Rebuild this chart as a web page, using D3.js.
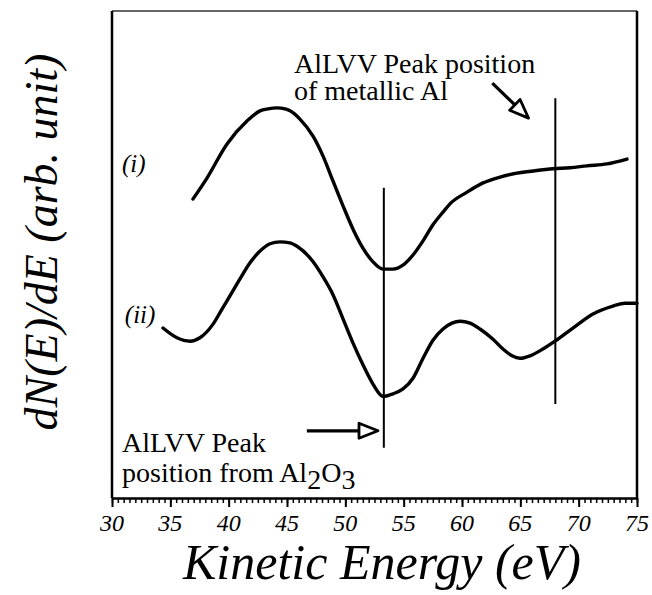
<!DOCTYPE html>
<html><head><meta charset="utf-8">
<script src="https://cdn.jsdelivr.net/npm/d3@7"></script>
</head><body style="margin:0">
<svg id="c" width="652" height="595"></svg>
<script>
// Kinetic energy (eV) and dN(E)/dE (arb. unit) for each spectrum
const energyI = [36.94,38.14,39.86,41.57,42.69,43.37,44.14,44.83,45.26,46.11,47.23,48.09,48.94,49.80,50.66,51.51,52.37,53.23,54.09,54.94,55.80,56.66,57.51,58.37,58.97,60.43,61.80,63.26,64.71,66.26,67.80,69.26,70.71,72.43,74.14];
const valueI  = [6.14,6.57,7.27,7.74,7.95,7.99,8.01,7.99,7.95,7.78,7.43,7.02,6.51,6.00,5.52,5.13,4.85,4.70,4.70,4.78,4.99,5.28,5.61,5.87,6.04,6.28,6.47,6.59,6.67,6.72,6.76,6.78,6.82,6.86,6.96];
const energyII = [34.37,35.57,36.69,37.54,38.66,39.43,40.11,40.97,41.83,42.69,43.54,44.40,45.26,45.86,47.24,48.09,48.95,49.80,50.66,51.52,52.37,53.23,54.09,54.94,55.80,56.66,57.51,58.37,59.14,59.83,60.69,61.54,62.66,63.51,64.29,64.97,65.83,66.94,67.97,69.51,71.23,72.94,73.97,75.0];
const valueII  = [3.49,3.29,3.22,3.29,3.57,3.88,4.15,4.50,4.83,5.07,5.22,5.26,5.24,5.17,4.85,4.54,4.17,3.68,3.18,2.73,2.34,2.09,2.14,2.24,2.46,2.87,3.24,3.47,3.59,3.63,3.59,3.47,3.26,3.06,2.92,2.87,2.92,3.06,3.22,3.49,3.78,3.94,4.00,4.00];
const xTicks = [30,35,40,45,50,55,60,65,70,75];
const peakEnergies = [53.3, 68];          // AlLVV peak markers (Al2O3, metallic Al)
const peakLineTop = [6.37, 8.21];
const peakLineBottom = [1.03, 1.93];

const svg = d3.select("#c");
const L = 112, R = 637, T = 11, B = 498;
const x = d3.scaleLinear().domain([30,75]).range([L,R]);
const y = d3.scaleLinear().domain([0,10]).range([B,T]);
const FF = "Liberation Serif";

// frame
svg.append("line").attr("x1",L).attr("x2",R).attr("y1",T).attr("y2",T).attr("stroke","#333").attr("stroke-width",1.5);
svg.append("line").attr("x1",L).attr("x2",L).attr("y1",T).attr("y2",B).attr("stroke","#000").attr("stroke-width",2.5);
svg.append("line").attr("x1",R).attr("x2",R).attr("y1",T).attr("y2",B).attr("stroke","#000").attr("stroke-width",2.5);

// bottom axis: minor ticks every 0.5 eV, longer ticks every 5 eV (labels drawn below)
const minor = d3.range(30,75.01,0.5);
svg.append("g").attr("transform",`translate(0,${B})`)
  .call(d3.axisBottom(x).tickValues(minor).tickSize(5).tickSizeOuter(0).tickFormat(""))
  .attr("font-family",null).attr("font-size",null)
  .call(g=>g.selectAll("text").remove())
  .call(g=>g.select(".domain").attr("stroke-width",2.5))
  .call(g=>g.selectAll(".tick line").attr("stroke-width",1.5));
svg.append("g").attr("transform",`translate(0,${B})`)
  .call(d3.axisBottom(x).tickValues(xTicks).tickSize(9).tickFormat(""))
  .attr("font-family",null).attr("font-size",null)
  .call(g=>g.selectAll("text").remove())
  .call(g=>g.select(".domain").remove())
  .call(g=>g.selectAll(".tick line").attr("stroke-width",2));

xTicks.forEach(v=>{
  svg.append("text").attr("x",x(v)).attr("y",B+33).attr("text-anchor","middle")
    .attr("font-size",24).style("font-family",`"${FF}"`).attr("font-style","italic").text(v);
});

// curves
const line = d3.line().x(d=>x(d[0])).y(d=>y(d[1])).curve(d3.curveMonotoneX);
const s1 = energyI.map((e,i)=>[e,valueI[i]]);
const s2 = energyII.map((e,i)=>[e,valueII[i]]);
[s1,s2].forEach(s=>svg.append("path").datum(s).attr("d",line)
  .attr("fill","none").attr("stroke","#000").attr("stroke-width",3.4).attr("stroke-linejoin","round").attr("stroke-linecap","round"));

// peak marker lines
peakEnergies.forEach((e,i)=>{
  svg.append("line").attr("x1",x(e)).attr("x2",x(e)).attr("y1",y(peakLineTop[i])).attr("y2",y(peakLineBottom[i]))
    .attr("stroke","#000").attr("stroke-width",2);
});

// curve labels
svg.append("text").attr("x",x(30.85)).attr("y",y(6.7)).attr("font-size",25).style("font-family",`"${FF}"`).attr("font-style","italic").text("(i)");
svg.append("text").attr("x",x(31.1)).attr("y",y(3.6)).attr("font-size",25).style("font-family",`"${FF}"`).attr("font-style","italic").text("(ii)");

// arrows (open triangular heads)
function arrow(e0,v0,e1,v1){
  const x0=x(e0),y0=y(v0),x1=x(e1),y1=y(v1);
  const a=Math.atan2(y1-y0,x1-x0), hl=19, hw=7.5;
  const bx=x1-hl*Math.cos(a), by=y1-hl*Math.sin(a);
  svg.append("line").attr("x1",x0).attr("y1",y0).attr("x2",bx).attr("y2",by)
    .attr("stroke","#000").attr("stroke-width",3.2);
  const p=[[x1,y1],[bx+hw*Math.sin(a),by-hw*Math.cos(a)],[bx-hw*Math.sin(a),by+hw*Math.cos(a)]];
  svg.append("path").attr("d","M"+p.join("L")+"Z").attr("fill","#fff").attr("stroke","#000").attr("stroke-width",2.8).attr("stroke-linejoin","round");
}
arrow(62.6,8.52,65.7,7.80);
arrow(46.7,1.38,52.8,1.38);

// annotations
svg.append("text").attr("x",x(45.6)).attr("y",y(8.73)).attr("font-size",28).style("font-family",`"${FF}"`).text("AlLVV Peak position");
svg.append("text").attr("x",x(45.6)).attr("y",y(8.17)).attr("font-size",28).style("font-family",`"${FF}"`).text("of metallic Al");
svg.append("text").attr("x",x(30.86)).attr("y",y(0.94)).attr("font-size",28).style("font-family",`"${FF}"`).text("AlLVV Peak");
const t = svg.append("text").attr("x",x(30.86)).attr("y",y(0.33)).attr("font-size",28).style("font-family",`"${FF}"`);
t.append("tspan").text("position from Al");
t.append("tspan").attr("dy",7).text("2");
t.append("tspan").attr("dy",-7).text("O");
t.append("tspan").attr("dy",7).text("3");

// axis titles
svg.append("text").attr("x",382).attr("y",579).attr("text-anchor","middle").attr("font-size",50)
  .style("font-family",`"${FF}"`).attr("font-style","italic").text("Kinetic Energy (eV)");
svg.append("text").attr("transform","translate(57,242) rotate(-90)").attr("text-anchor","middle").attr("font-size",46)
  .style("font-family",`"${FF}"`).attr("font-style","italic").text("dN(E)/dE (arb. unit)");
</script>
</body></html>
